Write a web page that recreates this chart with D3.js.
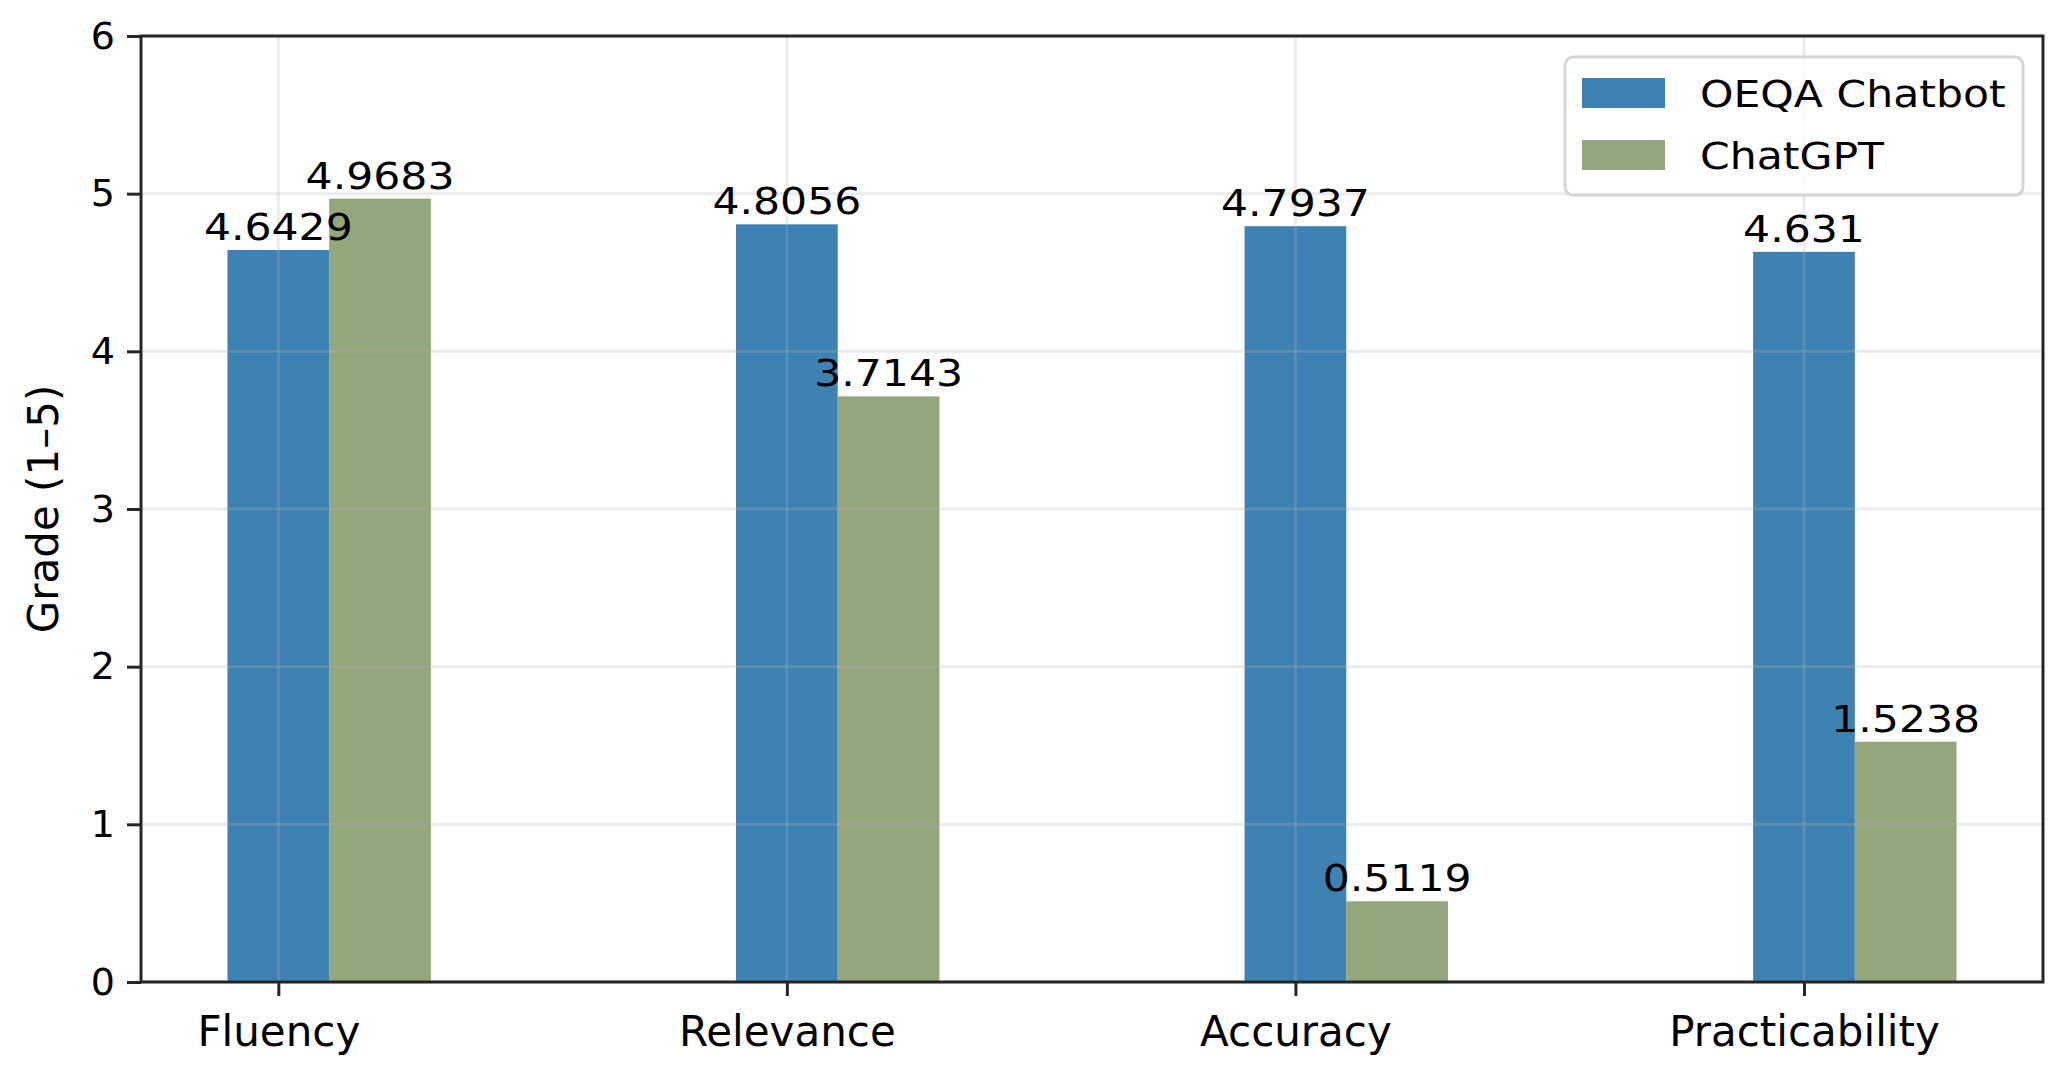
<!DOCTYPE html>
<html>
<head>
<meta charset="utf-8">
<script src="https://cdn.jsdelivr.net/npm/d3@7"></script>
<style>
  html, body { margin: 0; padding: 0; background: #fff; }
  svg { display: block; font-family: "DejaVu Sans", sans-serif; }
</style>
</head>
<body>
<svg id="chart" width="2064" height="1071"></svg>
<script>
const categories = ["Fluency", "Relevance", "Accuracy", "Practicability"];
const seriesNames = ["OEQA Chatbot", "ChatGPT"];
const oeqaValues = [4.6429, 4.8056, 4.7937, 4.631];
const chatgptValues = [4.9683, 3.7143, 0.5119, 1.5238];
const yTicks = [0, 1, 2, 3, 4, 5, 6];
const yLabel = "Grade (1–5)";
const colors = ["#3d82b3", "#94a67c"];

const svg = d3.select("#chart");
const L = 141, R = 2043, T = 36, B = 982;
const barW = 0.2;
const x = d3.scaleLinear().domain([-0.27, 3.47]).range([L, R]);
const y = d3.scaleLinear().domain([0, 6]).range([B, T]);

const series = [oeqaValues, chatgptValues];

// bars
series.forEach((vals, si) => {
  svg.append("g").selectAll("rect").data(vals).join("rect")
    .attr("x", (d, i) => x(i - barW / 2 + si * barW))
    .attr("width", (d, i) => x(i + barW / 2 + si * barW) - x(i - barW / 2 + si * barW))
    .attr("y", d => y(d))
    .attr("height", d => B - y(d))
    .attr("fill", colors[si]);
});

// grid (on top, translucent)
const grid = svg.append("g").attr("stroke", "#b0b0b0").attr("stroke-opacity", 0.25).attr("stroke-width", 3);
grid.selectAll("line.h").data(yTicks).join("line").attr("class", "h")
  .attr("x1", L).attr("x2", R).attr("y1", d => y(d)).attr("y2", d => y(d));
grid.selectAll("line.v").data(categories).join("line").attr("class", "v")
  .attr("x1", (d, i) => x(i)).attr("x2", (d, i) => x(i)).attr("y1", T).attr("y2", B);

// value labels (slightly wide glyphs as in the reference)
series.forEach((vals, si) => {
  svg.append("g").selectAll("text").data(vals).join("text")
    .attr("transform", (d, i) => `translate(${x(i + si * barW)},${y(d) - 10}) scale(1.12,1)`)
    .attr("text-anchor", "middle")
    .attr("font-size", 38)
    .attr("fill", "#000")
    .text(d => String(d));
});

// axes
const yAxis = d3.axisLeft(y).tickValues(yTicks).tickSize(14).tickPadding(12).tickFormat(d3.format("d"));
const gy = svg.append("g").attr("transform", `translate(${L},0)`).call(yAxis);
gy.select(".domain").remove();
gy.selectAll(".tick line").attr("stroke", "#262626").attr("stroke-width", 3);
gy.selectAll(".tick text").attr("font-size", 38).attr("fill", "#000").attr("font-family", "DejaVu Sans");

const xAxis = d3.axisBottom(x).tickValues(d3.range(categories.length)).tickSize(14).tickPadding(20)
  .tickFormat(i => categories[i]);
const gx = svg.append("g").attr("transform", `translate(0,${B})`).call(xAxis);
gx.select(".domain").remove();
gx.selectAll(".tick line").attr("stroke", "#262626").attr("stroke-width", 3);
gx.selectAll(".tick text").attr("font-size", 42).attr("fill", "#000").attr("font-family", "DejaVu Sans");

// spines
svg.append("rect").attr("x", L).attr("y", T).attr("width", R - L).attr("height", B - T)
  .attr("fill", "none").attr("stroke", "#262626").attr("stroke-width", 3);

// y label
svg.append("text")
  .attr("transform", `translate(${44 + 14},${(T + B) / 2}) rotate(-90)`)
  .attr("text-anchor", "middle")
  .attr("font-size", 42)
  .attr("fill", "#000")
  .text(yLabel);

// legend
const lg = svg.append("g");
lg.append("rect").attr("x", 1565).attr("y", 57).attr("width", 458).attr("height", 138)
  .attr("rx", 8).attr("fill", "#fff").attr("fill-opacity", 0.8)
  .attr("stroke", "#d6d6d6").attr("stroke-width", 3);
seriesNames.forEach((name, i) => {
  const cy = 93 + i * 62;
  lg.append("rect").attr("x", 1582).attr("y", cy - 15).attr("width", 83).attr("height", 30).attr("fill", colors[i]);
  lg.append("text").attr("transform", `translate(1700,${cy + 14}) scale(1.12,1)`)
    .attr("font-size", 38).attr("fill", "#000").text(name);
});
</script>
</body>
</html>
